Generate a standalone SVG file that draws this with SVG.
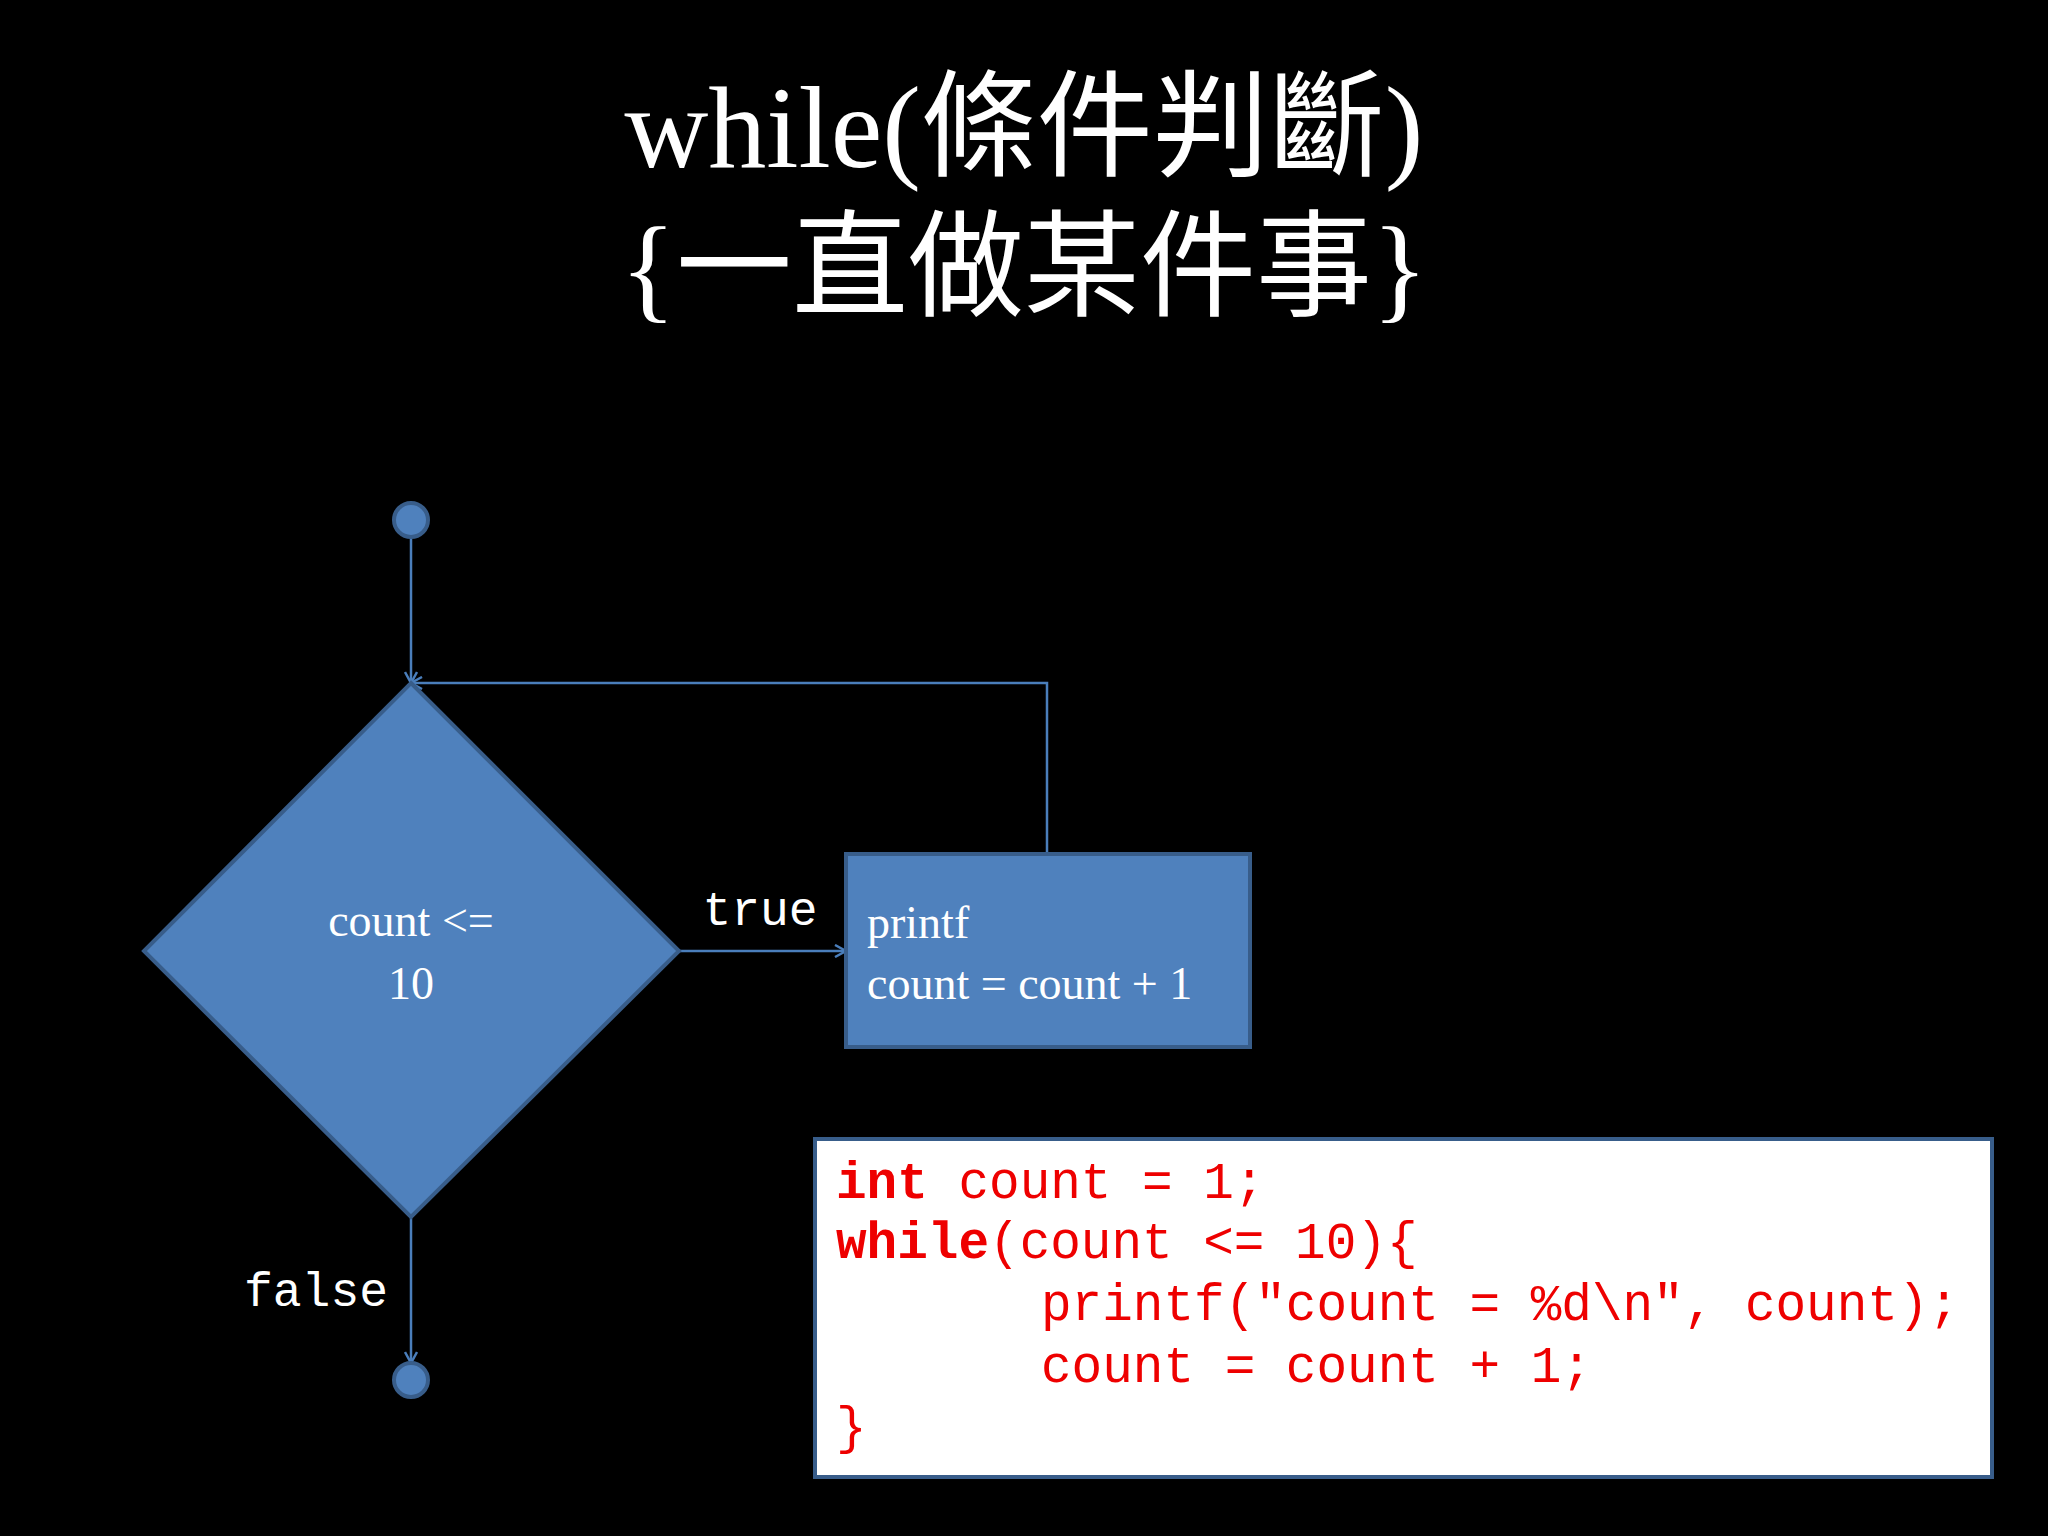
<svg xmlns="http://www.w3.org/2000/svg" width="2048" height="1536" viewBox="0 0 2048 1536">
<style>
.t{font-family:"Liberation Serif","Noto Sans CJK TC",serif;fill:#fff}
.m{font-family:"Liberation Mono","DejaVu Sans Mono",monospace;fill:#fff}
.c{font-family:"Liberation Mono","DejaVu Sans Mono",monospace;fill:#e00;font-size:51px}
.n{fill:#4f81bd;stroke:#385d8a;stroke-width:4}
.l{stroke:#4a7ebb;stroke-width:2.5;fill:none}
</style>
<defs><marker id="a" markerWidth="14" markerHeight="14" refX="12" refY="7" orient="auto" markerUnits="userSpaceOnUse"><path d="M1,1 L12,7 L1,13" fill="none" stroke="#4a7ebb" stroke-width="2.5"/></marker></defs>
<rect width="2048" height="1536" fill="#000"/>
<g id="title"><text class="t" x="1024" y="167" font-size="116" text-anchor="middle">while(條件判斷)</text>
<text class="t" x="1024" y="307" font-size="116" text-anchor="middle">{一直做某件事}</text></g>
<g id="connectors">
<line class="l" x1="411" y1="537" x2="411" y2="683" marker-end="url(#a)"/>
<line class="l" x1="679" y1="951" x2="846" y2="951" marker-end="url(#a)"/>
<polyline class="l" points="1047,854 1047,683 411,683" marker-end="url(#a)"/>
<line class="l" x1="411" y1="1217" x2="411" y2="1363" marker-end="url(#a)"/>
<text class="m" x="760" y="925" font-size="48" text-anchor="middle">true</text>
<text class="m" x="388" y="1306" font-size="48" text-anchor="end">false</text>
</g>
<g id="start"><circle class="n" cx="411" cy="520" r="17"/></g>
<g id="decision"><polygon class="n" points="411,683 679,951 411,1217 144,951"/>
<text class="t" x="411" y="936" font-size="46" text-anchor="middle">count &lt;=</text>
<text class="t" x="411" y="999" font-size="46" text-anchor="middle">10</text></g>
<g id="process"><rect class="n" x="846" y="854" width="404" height="193"/>
<text class="t" x="867" y="938" font-size="46">printf</text>
<text class="t" x="867" y="999" font-size="46">count = count + 1</text></g>
<g id="end"><circle class="n" cx="411" cy="1380" r="17"/></g>
<g id="code"><rect x="815" y="1139" width="1177" height="338" fill="#fff" stroke="#385d8a" stroke-width="4"/>
<text class="c" x="836" y="1198" xml:space="preserve"><tspan font-weight="bold">int</tspan> count = 1;</text>
<text class="c" x="836" y="1258" xml:space="preserve"><tspan font-weight="bold">while</tspan>(count &lt;= 10){</text>
<text class="c" x="1041" y="1320" xml:space="preserve">printf("count = %d\n", count);</text>
<text class="c" x="1041" y="1382" xml:space="preserve">count = count + 1;</text>
<text class="c" x="836" y="1443">}</text></g>
</svg>
